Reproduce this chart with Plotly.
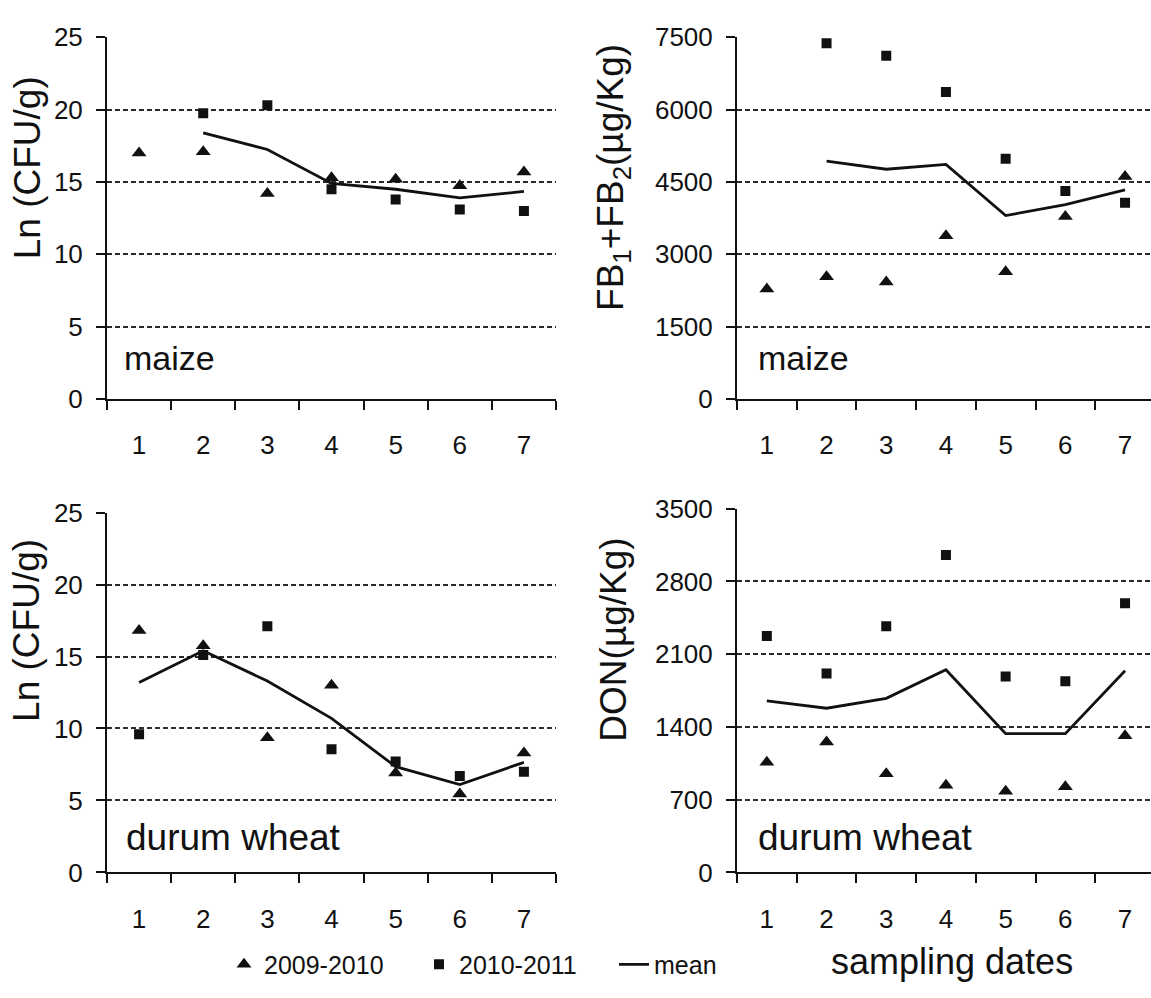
import plotly.graph_objects as go

# Sampling dates on the x axis
dates = [1, 2, 3, 4, 5, 6, 7]

# Maize: Fusarium load, Ln (CFU/g)
maize_cfu_0910 = [17.0, 17.1, 14.2, 15.3, 15.2, 14.75, 15.7]
maize_cfu_1011 = [None, 19.75, 20.3, 14.5, 13.8, 13.1, 13.0]
maize_cfu_mean = [None, 18.4, 17.25, 14.9, 14.5, 13.9, 14.35]

# Maize: fumonisins FB1+FB2 (µg/Kg)
maize_fb_0910 = [2280, 2535, 2430, 3385, 2640, 3785, 4615]
maize_fb_1011 = [None, 7375, 7120, 6365, 4985, 4315, 4070]
maize_fb_mean = [None, 4935, 4765, 4865, 3805, 4030, 4335]

# Durum wheat: Fusarium load, Ln (CFU/g)
wheat_cfu_0910 = [16.8, 15.75, 9.35, 13.0, 6.9, 5.45, 8.3]
wheat_cfu_1011 = [9.6, 15.1, 17.1, 8.55, 7.7, 6.7, 7.0]
wheat_cfu_mean = [13.2, 15.4, 13.3, 10.7, 7.35, 6.1, 7.65]

# Durum wheat: deoxynivalenol DON (µg/Kg)
wheat_don_0910 = [1060, 1255, 950, 840, 780, 825, 1315]
wheat_don_1011 = [2275, 1915, 2370, 3055, 1885, 1840, 2590]
wheat_don_mean = [1650, 1580, 1675, 1950, 1335, 1335, 1940]

season_labels = ["2009-2010", "2010-2011", "mean"]
crop_labels = ["maize", "maize", "durum wheat", "durum wheat"]
y_titles = ["Ln (CFU/g)", "FB<sub>1</sub>+FB<sub>2</sub>(µg/Kg)",
            "Ln (CFU/g)", "DON(µg/Kg)"]
y_ticks = [
    [0, 5, 10, 15, 20, 25],
    [0, 1500, 3000, 4500, 6000, 7500],
    [0, 5, 10, 15, 20, 25],
    [0, 700, 1400, 2100, 2800, 3500],
]
x_title = "sampling dates"

W, H = 1151, 998
FONT = "Liberation Sans, Arial, sans-serif"
INK = "#111111"


def px(x):
    return x / W


def py(y):
    return 1 - y / H


# Panel boxes in pixels: (left, right, top, bottom)
panels = [
    (107, 556, 23, 396),
    (737, 1151, 23, 396),
    (107, 556, 513, 884),
    (737, 1151, 509, 884),
]
# Category width of each panel, used for the x range
cat_w = [(556 - 107) / 7, 59.7, (556 - 107) / 7, 59.7]

series = [
    (maize_cfu_0910, maize_cfu_1011, maize_cfu_mean),
    (maize_fb_0910, maize_fb_1011, maize_fb_mean),
    (wheat_cfu_0910, wheat_cfu_1011, wheat_cfu_mean),
    (wheat_don_0910, wheat_don_1011, wheat_don_mean),
]

fig = go.Figure()

for i, (s0910, s1011, smean) in enumerate(series):
    ax = "" if i == 0 else str(i + 1)
    xa, ya = "x" + ax, "y" + ax
    first = i == 0
    fig.add_trace(go.Scatter(
        x=dates, y=smean, mode="lines", name=season_labels[2],
        line=dict(color=INK, width=2.8), xaxis=xa, yaxis=ya,
        showlegend=first, legendrank=3, connectgaps=False))
    fig.add_trace(go.Scatter(
        x=dates, y=s0910, mode="markers", name=season_labels[0],
        marker=dict(symbol="triangle-up", size=13, color=INK),
        xaxis=xa, yaxis=ya, showlegend=first, legendrank=1))
    fig.add_trace(go.Scatter(
        x=dates, y=s1011, mode="markers", name=season_labels[1],
        marker=dict(symbol="square", size=10, color=INK),
        xaxis=xa, yaxis=ya, showlegend=first, legendrank=2))

    l, r, t, b = panels[i]
    xmax = 0.5 + (r - l) / cat_w[i]
    fig.layout["xaxis" + ax] = dict(
        domain=[px(l), px(r)], range=[0.5, xmax], anchor=ya,
        tickvals=dates, ticktext=[str(d) for d in dates], ticks="",
        ticklabelstandoff=22,
        showline=True, linecolor=INK, linewidth=2, showgrid=False,
        zeroline=False, fixedrange=True,
        tickfont=dict(family=FONT, size=26, color=INK),
        minor=dict(tick0=0.5, dtick=1, ticks="outside", ticklen=9,
                   tickwidth=2, tickcolor=INK, showgrid=False),
    )
    yt = y_ticks[i]
    fig.layout["yaxis" + ax] = dict(
        domain=[py(b), py(t)], range=[yt[0], yt[-1]], anchor=xa,
        tickvals=yt, ticks="outside", ticklen=9, tickwidth=2,
        tickcolor=INK, ticklabelstandoff=8,
        showline=True, linecolor=INK, linewidth=2,
        showgrid=True, gridcolor="#2a2a2a", gridwidth=1.6,
        griddash="5px,3px", zeroline=False, fixedrange=True,
        tickfont=dict(family=FONT, size=26, color=INK),
    )

annotations = []
# Crop name inside each panel
crop_pos = [(122, 354), (756, 354), (124, 848), (756, 848)]
crop_size = [34, 34, 37, 37]
for (x, y), txt, fs in zip(crop_pos, crop_labels, crop_size):
    annotations.append(dict(
        text=txt, x=px(x), y=py(y), xref="paper", yref="paper",
        xanchor="left", yanchor="middle", showarrow=False,
        font=dict(family=FONT, size=fs, color=INK)))

# Rotated y-axis titles
title_pos = [(27, 158), (613, 168), (27, 635), (614, 644)]
for (x, y), txt in zip(title_pos, y_titles):
    annotations.append(dict(
        text=txt, x=px(x), y=py(y), xref="paper", yref="paper",
        xanchor="center", yanchor="middle", textangle=-90,
        showarrow=False, font=dict(family=FONT, size=37, color=INK)))

annotations.append(dict(
    text=x_title, x=px(952), y=py(976), xref="paper", yref="paper",
    xanchor="center", yanchor="middle", showarrow=False,
    font=dict(family=FONT, size=36, color=INK)))

fig.update_layout(
    width=W, height=H,
    margin=dict(l=0, r=0, t=0, b=0),
    paper_bgcolor="white", plot_bgcolor="white",
    annotations=annotations,
    showlegend=True,
    legend=dict(
        orientation="h", x=px(224), y=py(979), xanchor="left",
        yanchor="middle", entrywidth=150, entrywidthmode="pixels",
        itemwidth=30, bgcolor="rgba(0,0,0,0)",
        font=dict(family=FONT, size=25, color=INK),
    ),
)

fig.write_html("out.html")
